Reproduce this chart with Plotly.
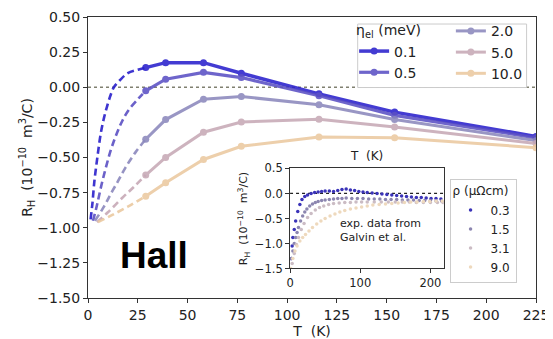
import plotly.graph_objects as go

# ---------------- data ----------------
T_main = [29, 39, 58, 77, 116, 154, 225]
eta_labels = ["0.1", "0.5", "2.0", "5.0", "10.0"]
R_01 = [0.14, 0.175, 0.175, 0.10, -0.047, -0.177, -0.35]
R_05 = [-0.025, 0.057, 0.106, 0.069, -0.06, -0.20, -0.36]
R_20 = [-0.37, -0.23, -0.085, -0.066, -0.125, -0.23, -0.38]
R_50 = [-0.625, -0.50, -0.32, -0.248, -0.227, -0.283, -0.40]
R_100 = [-0.775, -0.68, -0.514, -0.42, -0.354, -0.36, -0.43]

# low-T dashed extrapolations
Td_01 = [1.3, 2.2, 3.2, 4.7, 6.4, 8, 9.7, 11.5, 13, 16, 20, 25, 29]
Rd_01 = [-0.94, -0.83, -0.67, -0.5, -0.33, -0.22, -0.13, -0.05, 0.0, 0.05, 0.10, 0.125, 0.14]
Td_05 = [2.5, 4, 7.2, 11.4, 14.7, 17.2, 20.5, 25.5, 29]
Rd_05 = [-0.95, -0.87, -0.67, -0.45, -0.32, -0.24, -0.16, -0.078, -0.025]
Td_20 = [3.5, 8, 11.4, 15, 18.9, 24, 29]
Rd_20 = [-0.95, -0.85, -0.76, -0.67, -0.57, -0.46, -0.37]
Td_50 = [4.5, 10, 17, 23, 29]
Rd_50 = [-0.96, -0.89, -0.79, -0.71, -0.625]
Td_100 = [5, 12, 20, 29]
Rd_100 = [-0.96, -0.91, -0.85, -0.775]

# inset: experimental data (Galvin et al.)
rho_labels = ["0.3", "1.5", "3.1", "9.0"]
Te_03 = [2, 3, 4, 6, 8, 11, 14, 17, 21, 25, 30, 35, 40, 45, 50, 56, 62, 68, 74, 80,
         86, 92, 98, 104, 110, 117, 124, 131, 138, 145, 152, 159, 166, 173, 180, 187,
         194, 201, 208, 215]
Re_03 = [-1.3, -1.05, -0.88, -0.72, -0.55, -0.36, -0.22, -0.12, -0.06, -0.03, 0.0,
         0.02, 0.03, 0.04, 0.05, 0.05, 0.04, 0.06, 0.08, 0.09, 0.07, 0.06, 0.04, 0.03,
         0.02, 0.01, 0.0, -0.01, -0.02, -0.03, -0.04, -0.05, -0.06, -0.07, -0.08,
         -0.08, -0.09, -0.1, -0.1, -0.11]
Te_15 = [2, 4, 6, 8, 10, 12, 15, 18, 21, 24, 28, 32, 36, 40, 45, 50, 56, 62, 68, 74,
         80, 88, 96, 104, 112, 120, 128, 136, 144, 152, 160, 168, 176, 184, 192, 200,
         208, 216]
Re_15 = [-1.3, -1.15, -1.0, -0.88, -0.78, -0.68, -0.55, -0.45, -0.37, -0.31, -0.25,
         -0.21, -0.18, -0.16, -0.14, -0.13, -0.12, -0.11, -0.1, -0.1, -0.09, -0.1,
         -0.1, -0.1, -0.11, -0.11, -0.11, -0.12, -0.12, -0.12, -0.13, -0.13, -0.13,
         -0.14, -0.14, -0.14, -0.15, -0.15]
Te_31 = [3, 6, 9, 12, 16, 20, 25, 30, 36, 42, 48, 55, 62, 70, 78, 86, 94, 102, 110,
         120, 130, 140, 150, 160, 170, 180, 190, 200, 210, 218]
Re_31 = [-1.4, -1.2, -1.02, -0.88, -0.72, -0.6, -0.48, -0.4, -0.33, -0.28, -0.25,
         -0.22, -0.2, -0.19, -0.18, -0.18, -0.17, -0.17, -0.17, -0.17, -0.17, -0.17,
         -0.17, -0.17, -0.17, -0.18, -0.18, -0.18, -0.18, -0.18]
Te_90 = [1, 4, 7, 10, 14, 18, 22, 27, 32, 38, 44, 50, 57, 64, 71, 78, 86, 94, 102,
         110, 118, 127, 136, 145, 154, 163, 172, 181, 190, 199, 208, 217]
Re_90 = [-1.5, -1.3, -1.15, -1.05, -0.95, -0.88, -0.82, -0.75, -0.68, -0.61, -0.55,
         -0.5, -0.45, -0.41, -0.37, -0.34, -0.31, -0.29, -0.27, -0.25, -0.23, -0.22,
         -0.21, -0.2, -0.19, -0.18, -0.17, -0.17, -0.16, -0.16, -0.15, -0.15]

# ---------------- styling ----------------
eta_colors = ["#2a20cc", "#5b50c4", "#8b88bd", "#c7a9b6", "#ebc9a0"]
rho_colors = ["#3a33b8", "#8c86b0", "#cbbcc4", "#eed9bd"]
FONT = "DejaVu Sans"

fig = go.Figure()

solid = [R_01, R_05, R_20, R_50, R_100]
dashT = [Td_01, Td_05, Td_20, Td_50, Td_100]
dashR = [Rd_01, Rd_05, Rd_20, Rd_50, Rd_100]
legends = ["legend", "legend", "legend2", "legend2", "legend2"]
widths = [3.5, 3.2, 3, 3, 3]

# zero reference line (main)
fig.add_trace(go.Scatter(x=[0, 225], y=[0, 0], mode="lines", showlegend=False,
                         line=dict(color="#808070", width=1.5, dash="dot"),
                         hoverinfo="skip"))

for i in range(5):
    fig.add_trace(go.Scatter(x=dashT[i], y=dashR[i], mode="lines", showlegend=False,
                             line=dict(color=eta_colors[i], width=2.6, dash="7px,4px",
                                       shape="spline"),
                             opacity=0.9))
for i in range(5):
    fig.add_trace(go.Scatter(x=T_main, y=solid[i], mode="lines+markers",
                             name=eta_labels[i], legend=legends[i],
                             line=dict(color=eta_colors[i], width=widths[i]),
                             marker=dict(color=eta_colors[i], size=7),
                             opacity=0.88))

# inset
fig.add_trace(go.Scatter(x=[0, 219], y=[0, 0], mode="lines", showlegend=False,
                         xaxis="x2", yaxis="y2",
                         line=dict(color="#222222", width=1.2, dash="dot")))
exT = [Te_03, Te_15, Te_31, Te_90]
exR = [Re_03, Re_15, Re_31, Re_90]
for i in range(4):
    fig.add_trace(go.Scatter(x=exT[i], y=exR[i], mode="markers", name=rho_labels[i],
                             legend="legend3", xaxis="x2", yaxis="y2",
                             marker=dict(color=rho_colors[i], size=3.5)))

axis_line = dict(showline=True, linecolor="#333333", linewidth=1, mirror=True,
                 ticks="outside", ticklen=4, tickcolor="#333333", showgrid=False,
                 zeroline=False, automargin=False)

# the page body adds an 8px offset, so the figure is 8px smaller than the window
fig.update_layout(
    width=545, height=331,
    margin=dict(l=79.5, r=16.5, t=7, b=41),
    paper_bgcolor="white", plot_bgcolor="white",
    font=dict(family=FONT, size=14, color="#222222"),
    xaxis=dict(range=[0, 225], dtick=25, tickfont=dict(size=14),
               title=dict(text="T  (K)", font=dict(size=14), standoff=2), **axis_line),
    yaxis=dict(range=[-1.5, 0.5], dtick=0.25, tickformat=".2f", tickfont=dict(size=14),
               title=dict(text="R<sub>H</sub>  (10<sup>−10</sup>  m<sup>3</sup>/C)",
                          font=dict(size=14), standoff=1), **axis_line),
    xaxis2=dict(domain=[0.451, 0.794], anchor="y2", range=[0, 219], dtick=100,
                tickfont=dict(size=11.5), **axis_line),
    yaxis2=dict(domain=[0.105, 0.461], anchor="x2", range=[-1.5, 0.5], dtick=0.5,
                tickformat=".1f", tickfont=dict(size=11.5),
                title=dict(text="R<sub>H</sub>  (10<sup>−10</sup>  m<sup>3</sup>/C)",
                           font=dict(size=11), standoff=4), **axis_line),
    legend=dict(x=0.594, y=0.999, xanchor="left", yanchor="top",
                bgcolor="rgba(0,0,0,0)", borderwidth=0,
                title=dict(text="η<sub>el</sub> (meV)", font=dict(size=14)),
                font=dict(size=14), tracegroupgap=0, itemwidth=30),
    legend2=dict(x=0.810, y=1.006, xanchor="left", yanchor="top",
                 bgcolor="rgba(0,0,0,0)", borderwidth=0,
                 font=dict(size=14), tracegroupgap=0, itemwidth=30),
    legend3=dict(x=0.807, y=0.424, xanchor="left", yanchor="top",
                 bgcolor="white", bordercolor="#cccccc", borderwidth=1,
                 title=dict(text="ρ (μΩcm)", font=dict(size=12)),
                 font=dict(size=12), tracegroupgap=0, itemwidth=30),
    shapes=[dict(type="rect", xref="paper", yref="paper", x0=0.602, x1=0.979,
                 y0=0.749, y1=0.975, fillcolor="white",
                 line=dict(color="#cccccc", width=1), layer="above")],
    annotations=[
        dict(text="<b>Hall</b>", x=0.148, y=0.152, xref="paper", yref="paper",
             xanchor="center", yanchor="middle", showarrow=False,
             font=dict(family="Liberation Sans", size=37, color="black")),
        dict(text="T  (K)", x=0.5, y=1.0, xref="x2 domain", yref="y2 domain",
             yanchor="bottom", yshift=3, showarrow=False, font=dict(size=12)),
        dict(text="exp. data from<br>Galvin et al.", x=0.31, y=0.38, xref="x2 domain",
             yref="y2 domain", xanchor="left", yanchor="middle", align="left",
             showarrow=False, font=dict(size=11)),
    ],
)

fig.write_html("out.html")
